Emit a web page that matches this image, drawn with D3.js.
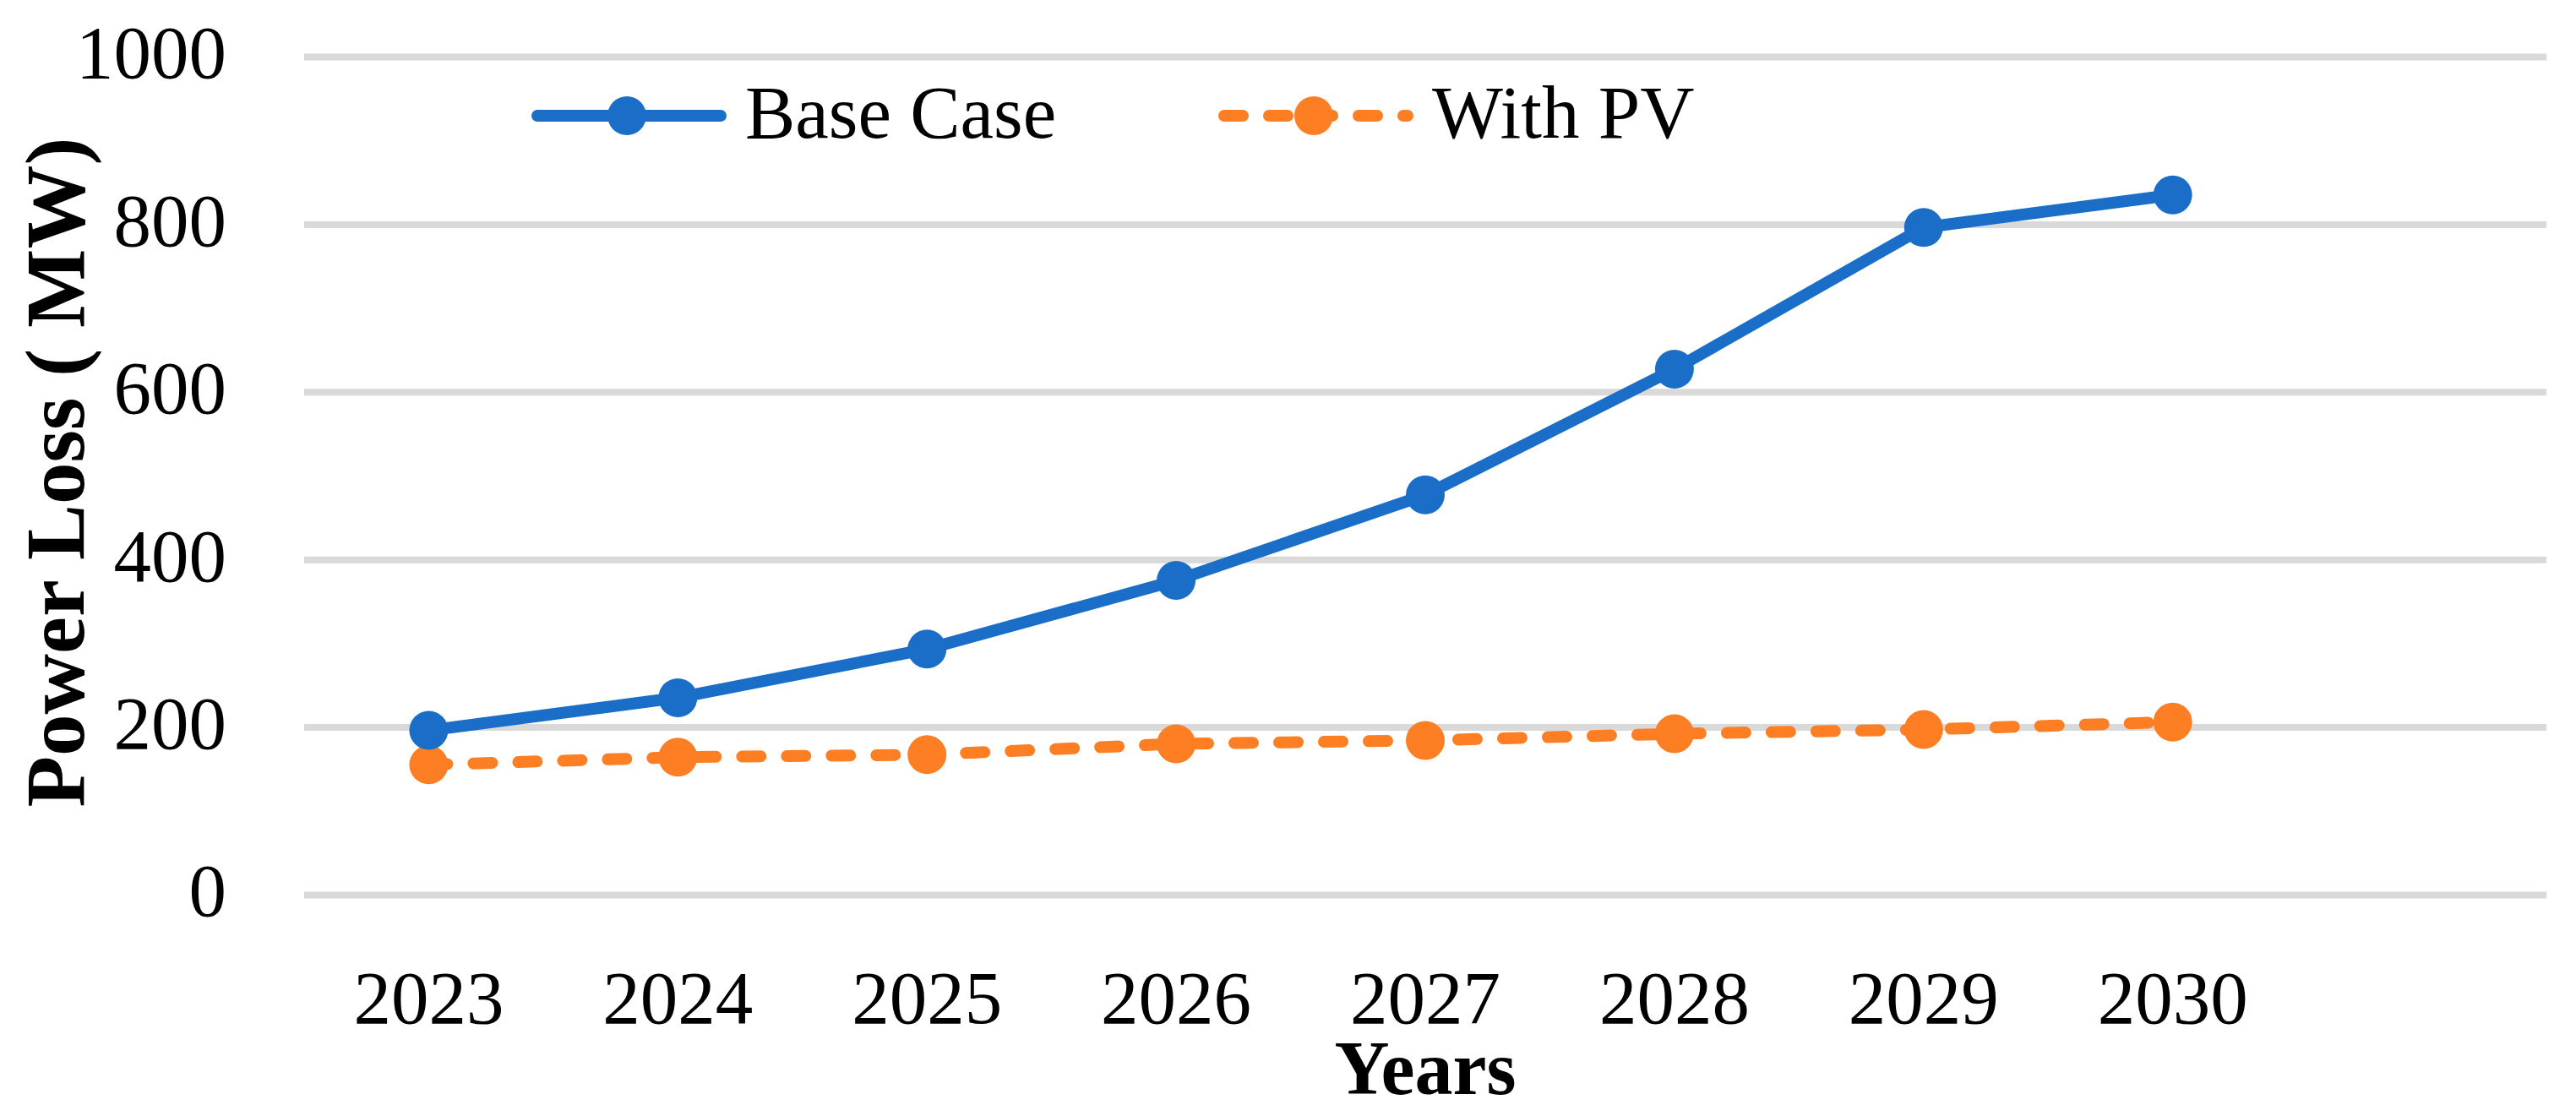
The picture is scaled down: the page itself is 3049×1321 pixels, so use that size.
<!DOCTYPE html>
<html>
<head>
<meta charset="utf-8">
<script src="https://cdn.jsdelivr.net/npm/d3@7"></script>
<style>
  html, body { margin: 0; padding: 0; background: #ffffff; }
  svg { display: block; }
</style>
</head>
<body>
<svg id="chart" width="3049" height="1321"></svg>
<script>
// ---- data ----
const years = ["2023", "2024", "2025", "2026", "2027", "2028", "2029", "2030"];
const baseCase = [196, 235, 293, 375, 477, 627, 796, 835];
const withPV = [155, 164, 167, 180, 184, 192, 197, 206];
const yTicks = [0, 200, 400, 600, 800, 1000];
const seriesNames = ["Base Case", "With PV"];
const yTitle = "Power Loss ( MW)";
const xTitle = "Years";

// ---- layout ----
const W = 3049, H = 1321;
const plotLeft = 360, plotRight = 3014, plotTop = 67, plotBottom = 1059;
const plotW = plotRight - plotLeft;
const fontFam = "'Liberation Serif', 'Times New Roman', serif";
const blue = "#1b6ec8", orange = "#fd7e23";

const svg = d3.select("#chart");

const x = d3.scaleBand()
  .domain(years)
  .range([plotLeft, plotLeft + plotW * years.length / (years.length + 1)]);
const y = d3.scaleLinear().domain([0, 1000]).range([plotBottom, plotTop]);

// y axis with gridlines
const yAxis = svg.append("g")
  .attr("transform", `translate(${plotLeft},0)`)
  .call(d3.axisLeft(y).tickValues(yTicks).tickSize(-plotW).tickPadding(92).tickFormat(d3.format("d")));
yAxis.select(".domain").remove();
yAxis.selectAll(".tick line").attr("stroke", "#d9d9d9").attr("stroke-width", 8);
yAxis.selectAll(".tick text")
  .attr("font-family", fontFam).attr("font-size", 89).attr("fill", "#000")
  .attr("dy", "0.28em");

// x axis
const xAxis = svg.append("g")
  .attr("transform", `translate(0,${plotBottom})`)
  .call(d3.axisBottom(x).tickSize(0).tickPadding(89));
xAxis.select(".domain").remove();
xAxis.selectAll(".tick text")
  .attr("font-family", fontFam).attr("font-size", 89).attr("fill", "#000");

// axis titles
svg.append("text")
  .attr("x", plotLeft + plotW / 2).attr("y", 1295)
  .attr("text-anchor", "middle")
  .attr("font-family", fontFam).attr("font-weight", "bold").attr("font-size", 90)
  .text(xTitle);

svg.append("text")
  .attr("transform", `translate(99,${(plotTop + plotBottom) / 2 - 4}) rotate(-90)`)
  .attr("text-anchor", "middle")
  .attr("font-family", fontFam).attr("font-weight", "bold").attr("font-size", 99)
  .text(yTitle);

// lines
const line = d3.line()
  .x((d, i) => x(years[i]) + x.bandwidth() / 2)
  .y(d => y(d));

svg.append("path").datum(withPV)
  .attr("fill", "none").attr("stroke", orange).attr("stroke-width", 14)
  .attr("stroke-linecap", "round").attr("stroke-dasharray", "22 31")
  .attr("d", line);

svg.append("path").datum(baseCase)
  .attr("fill", "none").attr("stroke", blue).attr("stroke-width", 14)
  .attr("stroke-linejoin", "round")
  .attr("d", line);

svg.append("g").selectAll("circle").data(withPV).join("circle")
  .attr("cx", (d, i) => x(years[i]) + x.bandwidth() / 2)
  .attr("cy", d => y(d)).attr("r", 23).attr("fill", orange);

svg.append("g").selectAll("circle").data(baseCase).join("circle")
  .attr("cx", (d, i) => x(years[i]) + x.bandwidth() / 2)
  .attr("cy", d => y(d)).attr("r", 23).attr("fill", blue);

// legend
const legendItems = [
  { name: seriesNames[0], color: blue, dash: null, x0: 629 },
  { name: seriesNames[1], color: orange, dash: "22 31", x0: 1442 }
];
const legendY = 137;
legendItems.forEach(it => {
  const g = svg.append("g");
  g.append("line")
    .attr("x1", it.x0 + 7).attr("x2", it.x0 + 224)
    .attr("y1", legendY).attr("y2", legendY)
    .attr("stroke", it.color).attr("stroke-width", 14)
    .attr("stroke-linecap", "round")
    .attr("stroke-dasharray", it.dash);
  g.append("circle").attr("cx", it.x0 + 113).attr("cy", legendY).attr("r", 23).attr("fill", it.color);
  g.append("text")
    .attr("x", it.x0 + 253).attr("y", 163)
    .attr("font-family", fontFam).attr("font-size", 89).attr("fill", "#000")
    .text(it.name);
});
</script>
</body>
</html>
